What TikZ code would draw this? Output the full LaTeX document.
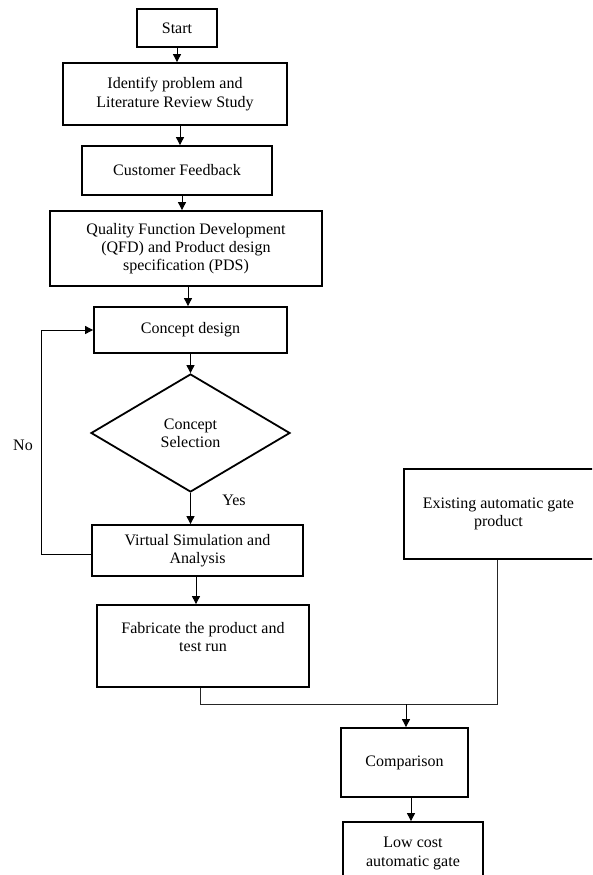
\documentclass[tikz,border=0pt]{standalone}
\usepackage{fontspec}
\setmainfont{Liberation Serif}
\usetikzlibrary{shapes.geometric,arrows.meta,calc}
\begin{document}
\begin{tikzpicture}[x=1pt,y=-1pt,
  every node/.style={font=\fontsize{16pt}{18.3pt}\selectfont, inner sep=0pt, align=center},
  box/.style={draw=black, line width=1.8pt, rectangle},
  dec/.style={draw=black, line width=1.8pt, diamond},
  arr/.style={draw=black, line width=0.9pt, -{Triangle[length=8pt,width=8pt]}},
  ln/.style={draw=black!85, line width=0.9pt},
  lbl/.style={}
]
\path[use as bounding box, clip] (0,0) rectangle (592,875);

\node[box, minimum width=80pt, minimum height=38pt] (start) at (177,28) {Start};
\node[box, minimum width=224pt, minimum height=62pt] (ident) at (175,94) {Identify problem and\\Literature Review Study};
\node[box, minimum width=190pt, minimum height=49pt] (cust) at (177,170.5) {Customer Feedback};
\node[box, minimum width=272pt, minimum height=75pt] (qfd) at (186,248.5) {Quality Function Development\\(QFD) and Product design\\specification (PDS)};
\node[box, minimum width=193pt, minimum height=46pt] (concept) at (190.5,330) {Concept design};
\node[dec, minimum width=199pt, minimum height=118pt] (sel) at (190.5,433) {Concept\\Selection};
\node[box, minimum width=211pt, minimum height=51pt] (virt) at (197.5,550.5) {Virtual Simulation and\\Analysis};
\node[box, minimum width=212pt, minimum height=82pt] (fab) at (203,646) {Fabricate the product and\\test run\\\mbox{}};
\node[box, minimum width=194pt, minimum height=90pt] (exist) at (501,514) {\hspace*{-5pt}Existing automatic gate\\\hspace*{-5pt}product};
\node[box, minimum width=127pt, minimum height=69pt] (comp) at (404.5,762.5) {Comparison};
\node[box, minimum width=140pt, minimum height=63pt] (low) at (413,853.5) {Low cost\\automatic gate};

\node[lbl] (no) at (23,445) {No};
\node[lbl] (yes) at (234,500) {Yes};

% main flow
\draw[arr] (start.south) -- (start.south |- ident.north);
\coordinate (a2) at ($(ident.south)+(5,0)$);
\draw[arr] (a2) -- (a2 |- cust.north);
\coordinate (a3) at ($(cust.south)+(5,0)$);
\draw[arr] (a3) -- (a3 |- qfd.north);
\coordinate (a4) at ($(qfd.south)+(2,0)$);
\draw[arr] (a4) -- (a4 |- concept.north);
\draw[arr] (concept.south) -- (sel.north);
\draw[arr] (sel.south) -- (sel.south |- virt.north);
\coordinate (a7) at ($(virt.south)+(-1.5,0)$);
\draw[arr] (a7) -- (a7 |- fab.north);

% feedback loop
\coordinate (fbk) at ($(virt.west)+(-50,4)$);
\draw[arr] ($(virt.west)+(0,4)$) -- (fbk) |- (concept.west);

% merge
\coordinate (j) at ($(comp.north)+(1.5,-23)$);
\coordinate (fb) at ($(fab.south)+(-3,0)$);
\draw[ln] (fb) -- (fb |- j) -- (j);
\coordinate (eb) at ($(exist.south)+(-4,0)$);
\draw[ln] (eb) -- (eb |- j) -- (j);
\draw[arr] (j) -- (j |- comp.north);

\coordinate (a10) at ($(comp.south)+(6.5,0)$);
\draw[arr] (a10) -- (a10 |- low.north);
\end{tikzpicture}
\end{document}
